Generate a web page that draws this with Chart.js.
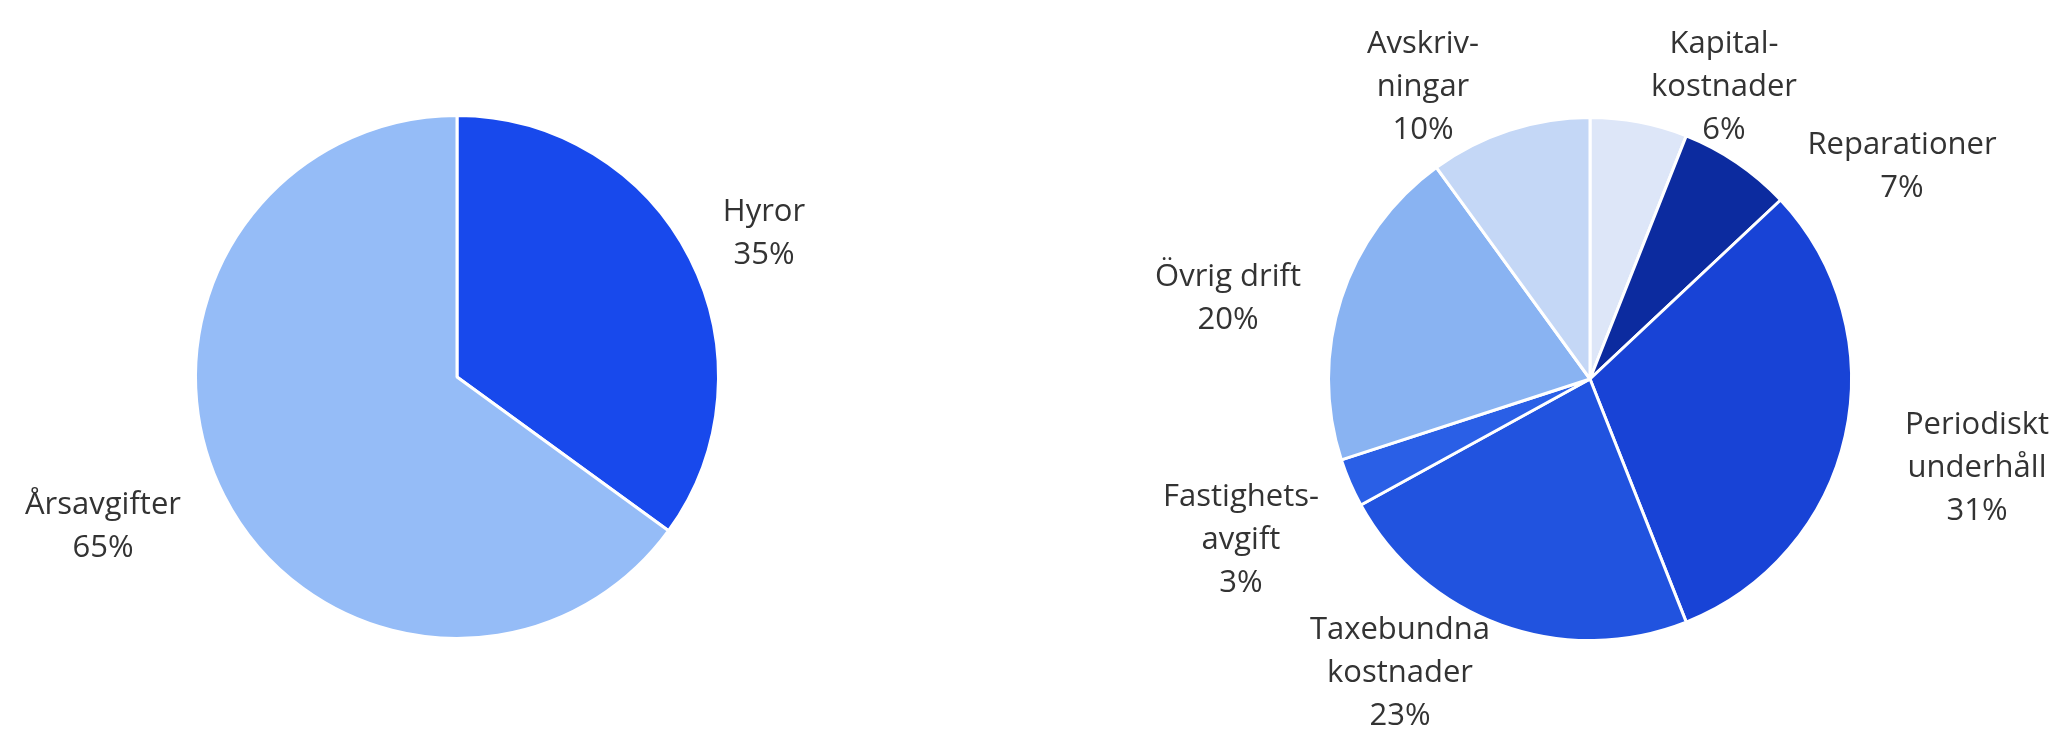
<!DOCTYPE html>
<html lang="sv">
<head>
    <meta charset="UTF-8">
    <title>Intäkter och kostnader</title>
    <style>
        body, html {
            margin: 0;
            padding: 0;
            background: #ffffff;
            overflow: hidden;
        }
        .pie-box {
            position: absolute;
            top: 0;
            height: 735px;
        }
        #leftBox {
            left: 0;
            width: 1000px;
        }
        #rightBox {
            left: 1000px;
            width: 1055px;
        }
    </style>
</head>
<body>
<div class="pie-box" id="leftBox"><canvas id="leftChart"></canvas></div>
<div class="pie-box" id="rightBox"><canvas id="rightChart"></canvas></div>

<script src="https://cdn.jsdelivr.net/npm/chart.js"></script>
<script>

// Intäkter (vänster)
const incomeCategories = ['Hyror', 'Årsavgifter'];
const incomeValues = [35, 65];
const incomeLabelLines = [['Hyror'], ['Årsavgifter']];

// Kostnader (höger), medurs från klockan 12
const costCategories = ['Kapitalkostnader', 'Reparationer', 'Periodiskt underhåll', 'Taxebundna kostnader', 'Fastighetsavgift', 'Övrig drift', 'Avskrivningar'];
const costValues = [6, 7, 31, 23, 3, 20, 10];
const costLabelLines = [
    ['Kapital-', 'kostnader'],
    ['Reparationer'],
    ['Periodiskt', 'underhåll'],
    ['Taxebundna', 'kostnader'],
    ['Fastighets-', 'avgift'],
    ['Övrig drift'],
    ['Avskriv-', 'ningar']
];

const incomeColors = ['#1849ec', '#95bcf7'];
const costColors = ['#dde6f8', '#0c2b9f', '#1843d6', '#2153df', '#2a5fe6', '#89b3f2', '#c4d7f6'];

// where each label block goes, relative to the pie centre (first line baseline)
const incomeLabelOffsets = [[307, -156], [-354, 137]];
const costLabelOffsets = [[134, -326], [312, -225], [387, 55], [-190, 260], [-349, 127], [-362, -93], [-167, -326]];

const LINE_HEIGHT = 43;

// draws the outside labels ("Hyror" / "35%") next to each slice
function makeLabelPlugin(lines, offsets) {
    return {
        id: 'outsideLabels',
        afterDraw(chart) {
            const ctx = chart.ctx;
            const meta = chart.getDatasetMeta(0);
            const values = chart.data.datasets[0].data;
            ctx.save();
            ctx.font = '31px "Open Sans", "Noto Sans", sans-serif';
            ctx.fillStyle = '#333333';
            ctx.textAlign = 'center';
            ctx.textBaseline = 'alphabetic';
            meta.data.forEach((arc, i) => {
                const text = lines[i].concat([values[i] + '%']);
                const x = arc.x + offsets[i][0];
                const y = arc.y + offsets[i][1];
                text.forEach((t, k) => ctx.fillText(t, x, y + k * LINE_HEIGHT));
            });
            ctx.restore();
        }
    };
}

function makePie(canvasId, categories, values, colors, padding, plugin) {
    const ctx = document.getElementById(canvasId).getContext('2d');
    return new Chart(ctx, {
        type: 'pie',
        data: {
            labels: categories,
            datasets: [{
                data: values,
                backgroundColor: colors,
                borderColor: '#ffffff',
                borderWidth: 3
            }]
        },
        options: {
            responsive: true,
            maintainAspectRatio: false,
            animation: false,
            layout: { padding: padding },
            plugins: {
                legend: { display: false },
                tooltip: { enabled: false }
            }
        },
        plugins: [plugin]
    });
}

makePie('leftChart', incomeCategories, incomeValues, incomeColors,
    { left: 194, right: 280, top: 114, bottom: 95 },
    makeLabelPlugin(incomeLabelLines, incomeLabelOffsets));

makePie('rightChart', costCategories, costValues, costColors,
    { left: 327, right: 202, top: 116, bottom: 93 },
    makeLabelPlugin(costLabelLines, costLabelOffsets));

</script>
</body>
</html>
